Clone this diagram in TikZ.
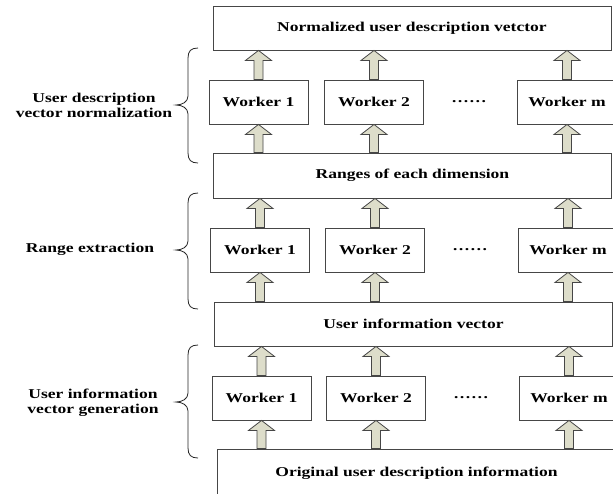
\documentclass[tikz,border=0pt]{standalone}
\usepackage{fontspec}
\setmainfont{Liberation Serif}[FakeStretch=1.3]
\usetikzlibrary{calc}
\definecolor{arrowfill}{RGB}{221,221,202}
\definecolor{edgegray}{RGB}{70,70,70}
\tikzset{
  box/.style={draw=edgegray, line width=0.9pt, fill=white, minimum height=44pt, inner sep=0pt,
    font=\fontsize{13.5}{15}\selectfont\bfseries},
  wide/.style={box, minimum width=398pt},
  worker/.style={box, minimum width=99pt},
  dotsnode/.style={inner sep=0pt, font=\fontsize{13.5}{15}\selectfont\bfseries},
  sidelabel/.style={inner sep=0pt, align=center, font=\fontsize{13.5}{15}\selectfont\bfseries},
  blockarrow/.style={draw=edgegray, line width=0.8pt, fill=arrowfill, line join=miter},
  bracepath/.style={draw=black!85, line width=0.8pt}
}
\newcommand\blockup[2]{%
  \path[blockarrow] let \p1=(#1), \p2=(#2) in
    (\x1-4.5pt,\y1) -- (\x1-4.5pt,\y2-10pt) -- (\x1-13pt,\y2-10pt) -- (\x1,\y2)
    -- (\x1+13pt,\y2-10pt) -- (\x1+4.5pt,\y2-10pt) -- (\x1+4.5pt,\y1) -- cycle;}
\newcommand\sidebrace[3]{% top, tip, bottom
  \draw[bracepath] (198,#1) .. controls (191,#1) and (188,#1+3) .. (188,#1+10)
    -- (188,#2-9) .. controls (188,#2-3) and (182,#2) .. (176,#2)
    .. controls (182,#2) and (188,#2+3) .. (188,#2+9)
    -- (188,#3-10) .. controls (188,#3-3) and (191,#3) .. (198,#3);}
\begin{document}
\begin{tikzpicture}[x=1pt,y=-1pt]
\path[use as bounding box, clip] (0,0) rectangle (613,493);
\fill[white] (0,0) rectangle (613,493);

% boxes
\node[wide] (top) at (412,28) {Normalized user description vetctor};
\node[worker] (w1a) at (258.5,102) {Worker 1};
\node[worker] (w2a) at (374,102) {Worker 2};
\node[worker] (wma) at (567,102) {Worker m};
\node[dotsnode] (da) at (469,102) {……};

\node[wide, minimum height=45pt] (ranges) at (412.5,175.5) {Ranges of each dimension};
\node[worker] (w1b) at (260,250) {Worker 1};
\node[worker] (w2b) at (375,250) {Worker 2};
\node[worker] (wmb) at (568,250) {Worker m};
\node[dotsnode] (db) at (470,250) {……};

\node[wide] (uiv) at (413.5,324) {User information vector};
\node[worker] (w1c) at (261.5,398) {Worker 1};
\node[worker] (w2c) at (376,398) {Worker 2};
\node[worker] (wmc) at (569,398) {Worker m};
\node[dotsnode] (dc) at (471,398) {……};

\node[wide, minimum height=48pt] (orig) at (416.5,473) {Original user description information};

% arrows
\foreach \w/\up/\dn in {w1a/top/ranges, w2a/top/ranges, wma/top/ranges,
                        w1b/ranges/uiv, w2b/ranges/uiv, wmb/ranges/uiv,
                        w1c/uiv/orig, w2c/uiv/orig, wmc/uiv/orig}{
  \blockup{\w.north}{\w.north |- \up.south}
  \blockup{\w.south |- \dn.north}{\w.south}
}

% braces and labels
\sidebrace{48}{105}{163}
\sidebrace{193}{250}{309}
\sidebrace{345}{402}{458}
\node[sidelabel] (l1) at (94,105) {User description\\vector normalization};
\node[sidelabel] (l2) at (90,249) {Range extraction};
\node[sidelabel] (l3) at (93,402.5) {User information\\vector generation};
\end{tikzpicture}
\end{document}
